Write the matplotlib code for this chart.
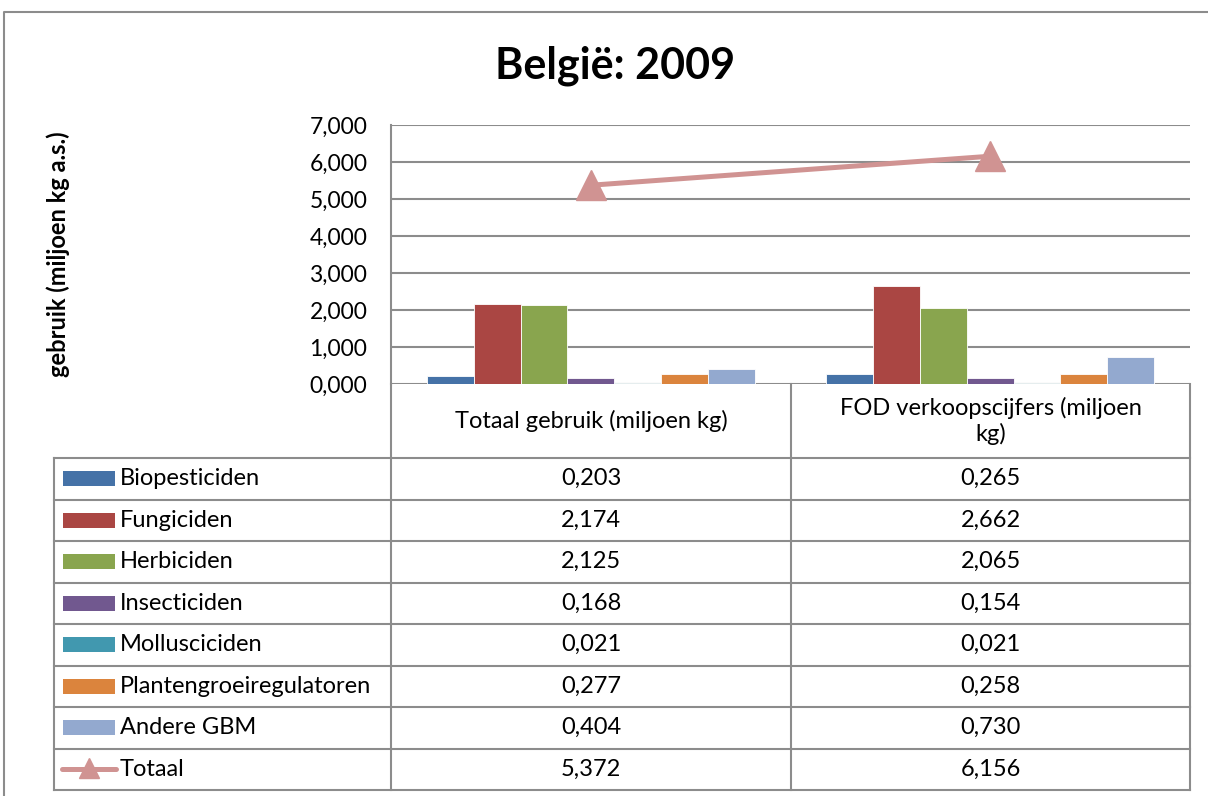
import numpy as np
import matplotlib.pyplot as plt
from matplotlib.ticker import FuncFormatter

plt.rcParams['font.family'] = ['Lato', 'DejaVu Sans']

# Data
categories = ['Totaal gebruik (miljoen kg)', 'FOD verkoopscijfers (miljoen\nkg)']
series_names = ['Biopesticiden', 'Fungiciden', 'Herbiciden', 'Insecticiden',
                'Molluscicíden'.replace('í', 'i'), 'Plantengroeiregulatoren', 'Andere GBM']
series_values = [
    [0.203, 0.265],
    [2.174, 2.662],
    [2.125, 2.065],
    [0.168, 0.154],
    [0.021, 0.021],
    [0.277, 0.258],
    [0.404, 0.730],
]
total_name = 'Totaal'
total_values = [5.372, 6.156]
yticks = [0, 1, 2, 3, 4, 5, 6, 7]

colors = ['#4572A7', '#AA4643', '#89A54E', '#71588F', '#4198AF', '#DB843D', '#93A9CF']
line_color = '#D09392'
grid_color = '#8C8C8C'

W, H = 1208, 796
fig = plt.figure(figsize=(W / 100, H / 100), dpi=100)

def fx(px):
    return px / W

def fy(py):
    return 1 - py / H

# plot area in pixel coordinates
L, R, T, B = 391, 1190, 125, 384
ax = fig.add_axes([fx(L), fy(B), fx(R - L), (B - T) / H])

n_series = len(series_names)
x = np.arange(len(categories))
bar_w = 0.82 / n_series
for i, (name, vals) in enumerate(zip(series_names, series_values)):
    offs = (i - (n_series - 1) / 2) * bar_w
    ax.bar(x + offs, vals, width=bar_w, color=colors[i], edgecolor='white',
           linewidth=0.6, zorder=3)

ax.plot(x, total_values, color=line_color, lw=3.6, marker='^', ms=21,
        markeredgecolor=line_color, solid_capstyle='round', zorder=4)

ax.set_xlim(-0.5, len(categories) - 0.5)
ax.set_ylim(0, 7)
ax.set_yticks(yticks)
ax.yaxis.set_major_formatter(FuncFormatter(lambda v, p: f'{v:.3f}'.replace('.', ',')))
ax.tick_params(axis='y', length=0, pad=17, labelsize=16.5)
ax.set_xticks([])
ax.grid(axis='y', color=grid_color, lw=1.5, zorder=0)
for s in ['top', 'right', 'bottom']:
    ax.spines[s].set_visible(False)
ax.spines['left'].set_color(grid_color)
ax.spines['left'].set_linewidth(1.5)

ax.set_ylabel('gebruik (miljoen kg a.s.)', fontsize=17, fontweight='bold')
ax.yaxis.set_label_coords((58 - L) / (R - L), 0.5)
ax.yaxis.label.set_verticalalignment('center')

# Title
fig.text(fx(615), fy(66), 'België: 2009', ha='center', va='center',
         fontsize=31, fontweight='bold')

# Overlay axes for the data table (pixel coordinates)
tab = fig.add_axes([0, 0, 1, 1], zorder=4)
tab.set_xlim(0, W)
tab.set_ylim(H, 0)
tab.axis('off')
tab.patch.set_alpha(0)

# outer chart border
tab.plot([4, 4, W + 5], [H + 5, 12, 12], color='#8C8C8C', lw=1.5)

col_x = [L, (L + R) / 2 + 0.5, R]
header_bottom = 458
table_bottom = 790
row_h = (table_bottom - header_bottom) / (n_series + 1)
left_x = 54

lk = dict(color=grid_color, lw=1.5)
tab.plot([L, L], [B, table_bottom], **lk)
tab.plot([col_x[1], col_x[1]], [B, table_bottom], **lk)
tab.plot([R, R], [B, table_bottom], **lk)
tab.plot([left_x, left_x], [header_bottom, table_bottom], **lk)
for k in range(n_series + 2):
    yy = header_bottom + k * row_h
    tab.plot([left_x, R], [yy, yy], **lk)

# category header labels
for j, cat in enumerate(categories):
    cx = (col_x[j] + col_x[j + 1]) / 2
    tab.text(cx, (B + header_bottom) / 2, cat, ha='center', va='center',
             fontsize=17, linespacing=1.25)

# rows
fmt = lambda v: f'{v:.3f}'.replace('.', ',')
rows = list(zip(series_names, series_values)) + [(total_name, total_values)]
for k, (name, vals) in enumerate(rows):
    cy = header_bottom + (k + 0.5) * row_h
    if k < n_series:
        tab.add_patch(plt.Rectangle((63, cy - 7.5), 52, 15, color=colors[k], lw=0))
    else:
        tab.plot([62, 116], [cy, cy], color=line_color, lw=3.6, solid_capstyle='round')
        tab.plot([89], [cy - 1], marker='^', ms=15, color=line_color)
    tab.text(120, cy, name, ha='left', va='center', fontsize=17)
    for j, v in enumerate(vals):
        cx = (col_x[j] + col_x[j + 1]) / 2
        tab.text(cx, cy, fmt(v), ha='center', va='center', fontsize=17)

fig.savefig('out.png', dpi=100)
